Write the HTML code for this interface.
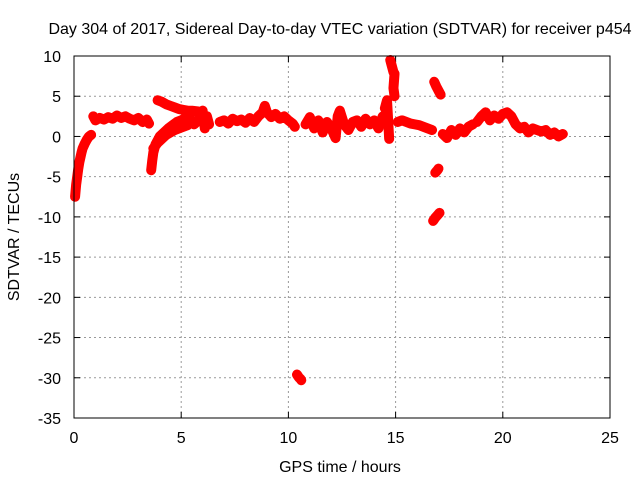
<!DOCTYPE html>
<html><head><meta charset="utf-8"><style>
body{margin:0;background:#fff;}
svg text{font-family:"Liberation Sans",sans-serif;font-size:16px;fill:#000;}
</style></head><body>
<svg id="c" width="640" height="480">
<text x="340" y="34" text-anchor="middle">Day 304 of 2017, Sidereal Day-to-day VTEC variation (SDTVAR) for receiver p454</text>
<text x="340" y="472" text-anchor="middle">GPS time / hours</text>
<text x="19" y="237" text-anchor="middle" transform="rotate(-90 19 237)">SDTVAR / TECUs</text>
<g id="grid"></g><g id="marks"></g>
<rect x="74" y="56" width="536" height="362" fill="none" stroke="#000" stroke-width="1"/>
</svg>
<script>
const xTicks=[0,5,10,15,20,25];
const yTicks=[10,5,0,-5,-10,-15,-20,-25,-30,-35];
const segT=[
[0.05,0.1,0.15,0.2,0.25,0.3,0.35,0.4,0.5,0.6,0.7,0.8],
[0.9,1.0,1.2,1.4,1.6,1.8,2.0,2.2,2.4,2.6,2.8,3.0,3.2,3.4,3.5],
[3.6,3.65,3.7,3.8,3.9,4.0,4.2,4.4,4.6,4.8,5.0,5.2,5.4],
[3.7,3.9,4.1,4.3,4.5,4.7,5.0,5.3],
[3.9,4.1,4.3,4.5,4.7,4.9,5.1,5.3,5.5,5.8],
[5.6,5.8,6.0,6.1,6.2,6.3],
[6.8,7.0,7.2,7.4,7.6,7.8,8.0,8.2,8.4,8.6,8.8,8.9,9.0,9.2,9.4,9.6,9.8,10.0,10.2,10.3],
[10.4,10.45,10.5,10.55,10.6],
[10.8,11.0,11.2,11.4,11.6,11.8,12.0,12.2,12.3,12.4,12.6,12.8,13.0,13.2,13.4,13.6,13.8,14.0,14.2,14.4,14.6],
[14.5,14.6,14.7],
[14.75,14.8,14.85,14.9,14.95,14.9,14.95],
[15.1,15.3,15.5,15.7,15.9,16.1,16.3,16.5,16.7],
[16.8,16.9,17.0,17.1],
[16.85,16.95,17.0],
[16.75,16.85,16.95,17.05],
[17.2,17.4,17.6,17.8,18.0,18.2,18.4,18.6],
[18.8,19.0,19.2,19.4,19.6,19.8,20.0,20.2,20.4,20.6,20.8,21.0,21.2,21.4,21.6,21.8,22.0,22.2,22.4,22.6,22.8]
];
const segV=[
[-7.5,-6,-5,-4,-3.2,-2.6,-2,-1.5,-0.9,-0.4,0,0.2],
[2.5,2.0,2.3,2.1,2.4,2.2,2.6,2.3,2.5,2.2,2.0,2.3,1.8,2.1,1.6],
[-4.2,-3,-2,-1,-0.5,0,0.5,1,1.4,1.8,2,2.3,2.5],
[-1.5,-0.8,-0.3,0.2,0.5,0.8,1.1,1.4],
[4.5,4.3,4,3.8,3.6,3.4,3.3,3.2,3.2,3.1],
[1.5,2,3.2,1,2.5,1.5],
[1.8,2.0,1.6,2.2,1.9,2.1,1.7,2.3,1.8,2.5,3.0,3.8,3.0,2.4,2.8,2.2,2.5,2.0,1.6,1.2],
[-29.6,-29.8,-30,-30.1,-30.3],
[1.5,2.4,1.0,2.0,0.5,1.8,1.0,-0.2,2.5,3.2,1.5,0.8,1.8,2.0,1.2,2.2,1.5,2.0,1.0,2.5,2.0],
[3.5,4.5,-0.3],
[9.5,9,8.5,8,7.8,6,5],
[1.8,2.0,1.8,1.6,1.5,1.4,1.2,1.0,0.8],
[6.8,6.2,5.7,5.2],
[-4.5,-4.2,-4.0],
[-10.5,-10.1,-9.8,-9.5],
[0.3,-0.2,0.8,0.2,1.0,0.5,1.2,1.5],
[1.8,2.5,3.0,2.0,2.6,2.2,2.8,3.0,2.5,1.5,1.0,1.2,0.5,1.0,0.8,0.6,0.8,0.2,0.5,0,0.3]
];
const X=t=>74+t*(536/25);
const Y=v=>56+(10-v)*(362/45);
const NS="http://www.w3.org/2000/svg";
const grid=document.getElementById('grid'),marks=document.getElementById('marks');
function mk(tag,a,p){const e=document.createElementNS(NS,tag);for(const k in a)e.setAttribute(k,a[k]);p.appendChild(e);return e;}
xTicks.forEach(t=>{
 const x=X(t);
 if(t>0&&t<25){const g=mk('line',{x1:x,x2:x,y1:56,y2:418,stroke:'#999','stroke-dasharray':'2,3'},grid);
 
 }
 mk('line',{x1:x,x2:x,y1:418,y2:412,stroke:'#000'},grid);
 mk('line',{x1:x,x2:x,y1:56,y2:62,stroke:'#000'},grid);
 const tx=mk('text',{x:x,y:443,'text-anchor':'middle'},grid);tx.textContent=t;
 
 
});
yTicks.forEach(v=>{
 const y=Y(v);
 if(v<10&&v>-35){const g=mk('line',{x1:74,x2:610,y1:y,y2:y,stroke:'#999','stroke-dasharray':'2,3'},grid);
 
 }
 mk('line',{x1:74,x2:80,y1:y,y2:y,stroke:'#000'},grid);
 mk('line',{x1:610,x2:604,y1:y,y2:y,stroke:'#000'},grid);
 const tx=mk('text',{x:61,y:y+6,'text-anchor':'end'},grid);tx.textContent=v;
 
 
});
segT.forEach((ts,i)=>{
 const vs=segV[i];
 const g=mk('g',{},marks);
 
 
 let pts=ts.map((t,j)=>X(t)+','+Y(vs[j])).join(' ');
 mk('polyline',{points:pts,fill:'none',stroke:'red','stroke-width':10,'stroke-linejoin':'round','stroke-linecap':'round'},g);
 ts.forEach((t,j)=>{
  const x=X(t),y=Y(vs[j]);
  mk('path',{d:`M${x-4},${y}H${x+4}M${x},${y-4}V${y+4}`,stroke:'red','stroke-width':1.5},g);
 });
});
</script>
</body></html>
